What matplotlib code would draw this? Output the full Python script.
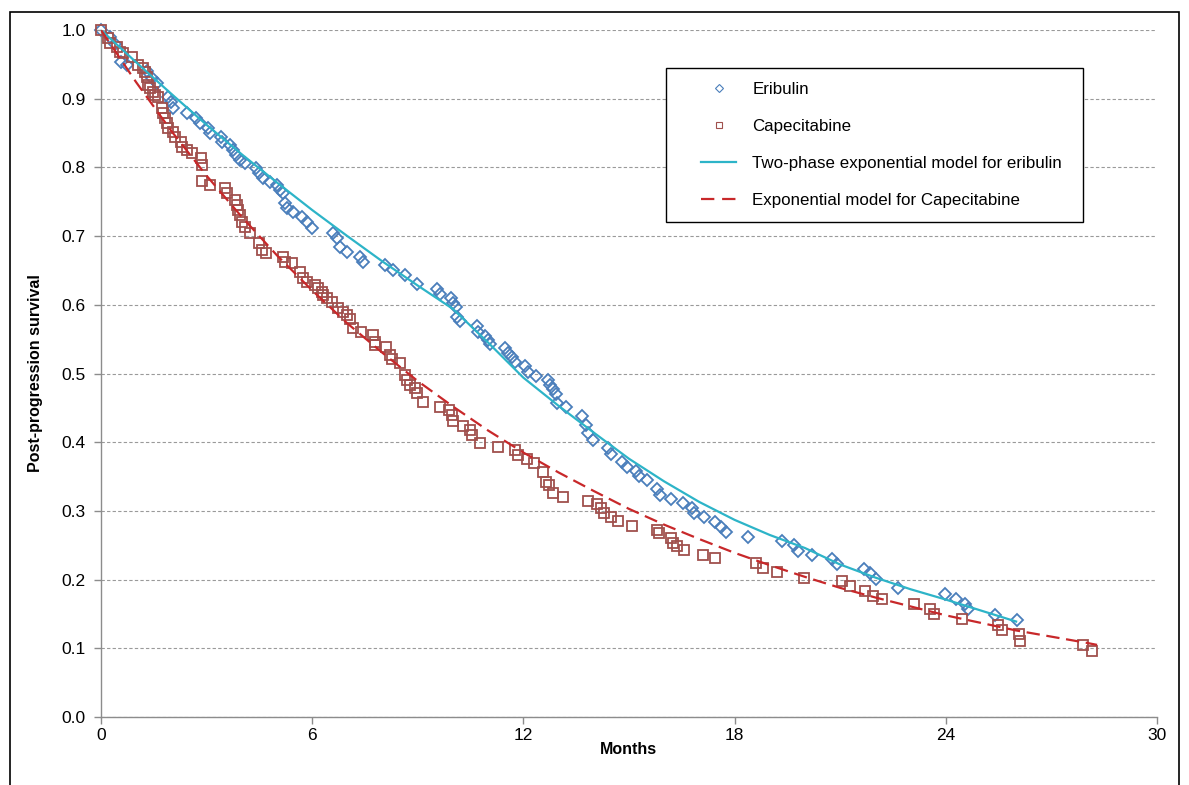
import matplotlib.pyplot as plt
from matplotlib.lines import Line2D
from matplotlib.patches import Rectangle

plt.rcParams['font.family'] = ['Liberation Sans', 'DejaVu Sans']

# Observed post-progression survival, eribulin (months, survival)
eri_months = [0, 0.25, 0.4, 0.57, 0.74, 1.3, 1.45, 1.6, 1.9, 2.0,
              2.05, 2.44, 2.7, 2.8, 3.05, 3.1, 3.4, 3.45, 3.66, 3.75,
              3.85, 3.95, 4.1, 4.4, 4.5, 4.6, 4.8, 5.0, 5.08, 5.17,
              5.22, 5.3, 5.45, 5.7, 5.85, 6.0, 6.6, 6.7, 6.8, 7.0,
              7.35, 7.45, 8.07, 8.3, 8.64, 8.98, 9.55, 9.63, 9.94, 10.0,
              10.09, 10.12, 10.2, 10.68, 10.72, 10.9, 11.0, 11.05, 11.48, 11.56,
              11.68, 11.76, 12.05, 12.13, 12.36, 12.7, 12.77, 12.84, 12.93, 12.96,
              13.2, 13.66, 13.78, 13.84, 13.98, 14.4, 14.5, 14.8, 14.94, 15.2,
              15.28, 15.5, 15.8, 15.88, 16.2, 16.55, 16.8, 16.86, 17.14, 17.45,
              17.62, 17.76, 18.38, 19.35, 19.7, 19.8, 20.2, 20.77, 20.92, 21.68,
              21.85, 22.02, 22.65, 23.98, 24.3, 24.55, 24.63, 25.4, 26.02]
eri_surv = [1.0, 0.99, 0.98, 0.953, 0.949, 0.94, 0.93, 0.923, 0.903, 0.895,
            0.886, 0.879, 0.872, 0.864, 0.857, 0.85, 0.844, 0.837, 0.833, 0.825,
            0.818, 0.811, 0.806, 0.799, 0.792, 0.785, 0.779, 0.774, 0.767, 0.763,
            0.748, 0.741, 0.735, 0.728, 0.72, 0.712, 0.705, 0.697, 0.684, 0.677,
            0.67, 0.662, 0.658, 0.651, 0.643, 0.63, 0.623, 0.616, 0.61, 0.603,
            0.597, 0.582, 0.576, 0.569, 0.56, 0.555, 0.549, 0.543, 0.537, 0.53,
            0.524, 0.517, 0.511, 0.502, 0.496, 0.49, 0.483, 0.477, 0.47, 0.457,
            0.451, 0.438, 0.425, 0.413, 0.403, 0.392, 0.383, 0.371, 0.364, 0.358,
            0.351, 0.345, 0.332, 0.323, 0.317, 0.311, 0.304, 0.297, 0.291, 0.284,
            0.277, 0.269, 0.262, 0.256, 0.25, 0.242, 0.236, 0.23, 0.223, 0.215,
            0.21, 0.201, 0.188, 0.179, 0.172, 0.164, 0.157, 0.148, 0.141]

# Observed post-progression survival, capecitabine
cap_months = [0, 0.2, 0.26, 0.45, 0.54, 0.62, 0.88, 1.05, 1.2, 1.25,
              1.31, 1.34, 1.4, 1.48, 1.53, 1.62, 1.73, 1.76, 1.82, 1.87,
              1.9, 2.05, 2.1, 2.27, 2.3, 2.44, 2.6, 2.84, 2.87, 2.88,
              3.1, 3.52, 3.58, 3.8, 3.86, 3.9, 3.95, 4.0, 4.1, 4.23,
              4.5, 4.57, 4.7, 5.17, 5.22, 5.42, 5.65, 5.73, 5.85, 6.08,
              6.16, 6.27, 6.3, 6.42, 6.56, 6.73, 6.88, 7.0, 7.07, 7.16,
              7.4, 7.73, 7.78, 7.8, 8.1, 8.2, 8.27, 8.5, 8.64, 8.7,
              8.78, 8.92, 8.98, 9.15, 9.63, 9.9, 9.97, 10.0, 10.3, 10.48,
              10.54, 10.77, 11.28, 11.76, 11.85, 12.1, 12.3, 12.56, 12.64, 12.72,
              12.85, 13.13, 13.84, 14.1, 14.2, 14.3, 14.5, 14.7, 15.1, 15.8,
              15.85, 16.2, 16.25, 16.36, 16.56, 17.1, 17.45, 18.6, 18.8, 19.2,
              19.97, 21.05, 21.28, 21.7, 21.93, 22.2, 23.1, 23.55, 23.67, 24.46,
              25.48, 25.6, 26.08, 26.1, 27.9, 28.15]
cap_surv = [1.0, 0.988, 0.981, 0.975, 0.968, 0.966, 0.961, 0.949, 0.945, 0.939,
            0.931, 0.92, 0.916, 0.91, 0.905, 0.902, 0.886, 0.879, 0.872, 0.865,
            0.857, 0.851, 0.844, 0.837, 0.83, 0.825, 0.821, 0.814, 0.803, 0.78,
            0.774, 0.77, 0.763, 0.753, 0.745, 0.738, 0.731, 0.72, 0.713, 0.705,
            0.69, 0.68, 0.675, 0.67, 0.662, 0.661, 0.648, 0.639, 0.633, 0.629,
            0.624, 0.619, 0.614, 0.61, 0.604, 0.595, 0.59, 0.585, 0.579, 0.566,
            0.56, 0.556, 0.546, 0.541, 0.539, 0.527, 0.521, 0.515, 0.498, 0.49,
            0.483, 0.479, 0.472, 0.459, 0.451, 0.447, 0.44, 0.431, 0.424, 0.418,
            0.41, 0.399, 0.393, 0.389, 0.381, 0.375, 0.37, 0.357, 0.342, 0.338,
            0.326, 0.32, 0.314, 0.31, 0.304, 0.297, 0.291, 0.285, 0.278, 0.272,
            0.268, 0.261, 0.253, 0.249, 0.243, 0.236, 0.231, 0.224, 0.217, 0.211,
            0.203, 0.198, 0.191, 0.183, 0.176, 0.172, 0.164, 0.157, 0.15, 0.143,
            0.134, 0.127, 0.121, 0.111, 0.105, 0.096]

# Model curves
eri_fit_months = [0, 1, 2, 3, 4, 5, 6, 7, 8, 9, 10, 11, 12, 13, 14, 15, 16,
                  17, 18, 19, 20, 21, 22, 23, 24, 25, 26]
eri_fit_surv = [1.0, 0.953, 0.907, 0.862, 0.819, 0.778, 0.738, 0.700, 0.663,
                0.628, 0.594, 0.545, 0.494, 0.453, 0.414, 0.376, 0.343, 0.313,
                0.287, 0.265, 0.246, 0.222, 0.203, 0.186, 0.171, 0.155, 0.139]
cap_fit_months = [0, 1, 2, 3, 4, 5, 6, 7, 8, 9, 10, 11, 12, 13, 14, 15, 16,
                  17, 18, 19, 20, 21, 22, 23, 24, 25, 26, 27, 28, 28.3]
cap_fit_surv = [1.0, 0.924, 0.853, 0.788, 0.728, 0.672, 0.621, 0.573, 0.530,
                0.489, 0.452, 0.417, 0.385, 0.356, 0.329, 0.303, 0.280, 0.259,
                0.239, 0.221, 0.204, 0.188, 0.174, 0.161, 0.148, 0.137, 0.126,
                0.117, 0.108, 0.105]

labels = ['Eribulin', 'Capecitabine',
          'Two-phase exponential model for eribulin',
          'Exponential model for Capecitabine']

blue = '#4a7ebb'
brown = '#a0504d'
cyan = '#2db4c8'
red = '#c8282a'
gray = '#8c8c8c'

fig = plt.figure(figsize=(11.89, 7.85), dpi=100)
ax = fig.add_axes([0.0849, 0.0866, 0.8881, 0.8752])

ax.plot(eri_months, eri_surv, ls='none', marker='D', ms=6.5, mfc='none',
        mec=blue, mew=1.3, clip_on=False, zorder=3)
ax.plot(cap_months, cap_surv, ls='none', marker='s', ms=7.5, mfc='none',
        mec=brown, mew=1.3, clip_on=False, zorder=3)
ax.plot(eri_fit_months, eri_fit_surv, color=cyan, lw=1.6, zorder=4)
ax.plot(cap_fit_months, cap_fit_surv, color=red, lw=1.6,
        dashes=(6, 3), zorder=4)

ax.set_xlim(0, 30)
ax.set_ylim(0, 1.0)
ax.set_xticks([0, 6, 12, 18, 24, 30])
ax.set_yticks([i / 10 for i in range(11)])
ax.yaxis.set_major_formatter(plt.FormatStrFormatter('%.1f'))
ax.tick_params(axis='both', labelsize=12.5, colors=gray, labelcolor='black',
               length=5, width=1)
ax.tick_params(axis='y', pad=6)
ax.tick_params(axis='x', pad=3)

for s in ['top', 'right']:
    ax.spines[s].set_visible(False)
for s in ['left', 'bottom']:
    ax.spines[s].set_color(gray)
    ax.spines[s].set_linewidth(1)

ax.yaxis.grid(True, ls=(0, (3, 2)), color='#9a9a9a', lw=0.8)
ax.set_axisbelow(True)

ax.set_xlabel('Months', fontsize=11.5, fontweight='bold')
ax.set_ylabel('Post-progression survival', fontsize=11.5, fontweight='bold')
ax.xaxis.set_label_coords(0.5, -0.037)
ax.yaxis.set_label_coords(-0.055, 0.5)

handles = [
    Line2D([], [], ls='none', marker='D', ms=4, mfc='none', mec=blue, mew=0.8),
    Line2D([], [], ls='none', marker='s', ms=4.5, mfc='none', mec=brown, mew=0.8),
    Line2D([], [], color=cyan, lw=1.6),
    Line2D([], [], color=red, lw=1.6, dashes=(6, 3.5)),
]
ax.add_patch(Rectangle((0.535, 0.72), 0.395, 0.225, transform=ax.transAxes,
                       facecolor='white', edgecolor='black', lw=1.0,
                       zorder=5))
leg = ax.legend(handles, labels, loc='upper left',
                bbox_to_anchor=(0.568, 0.925), frameon=False,
                fontsize=12.2, handlelength=2.1, handletextpad=0.95,
                labelspacing=1.3, borderpad=0, borderaxespad=0)
leg.set_zorder(6)

fig.patches.append(Rectangle((10 / 1189, -0.01), 1169 / 1189, 773 / 785 + 0.01,
                             transform=fig.transFigure, fill=False,
                             edgecolor='black', lw=1.2))

fig.savefig('out.png', dpi=100)
